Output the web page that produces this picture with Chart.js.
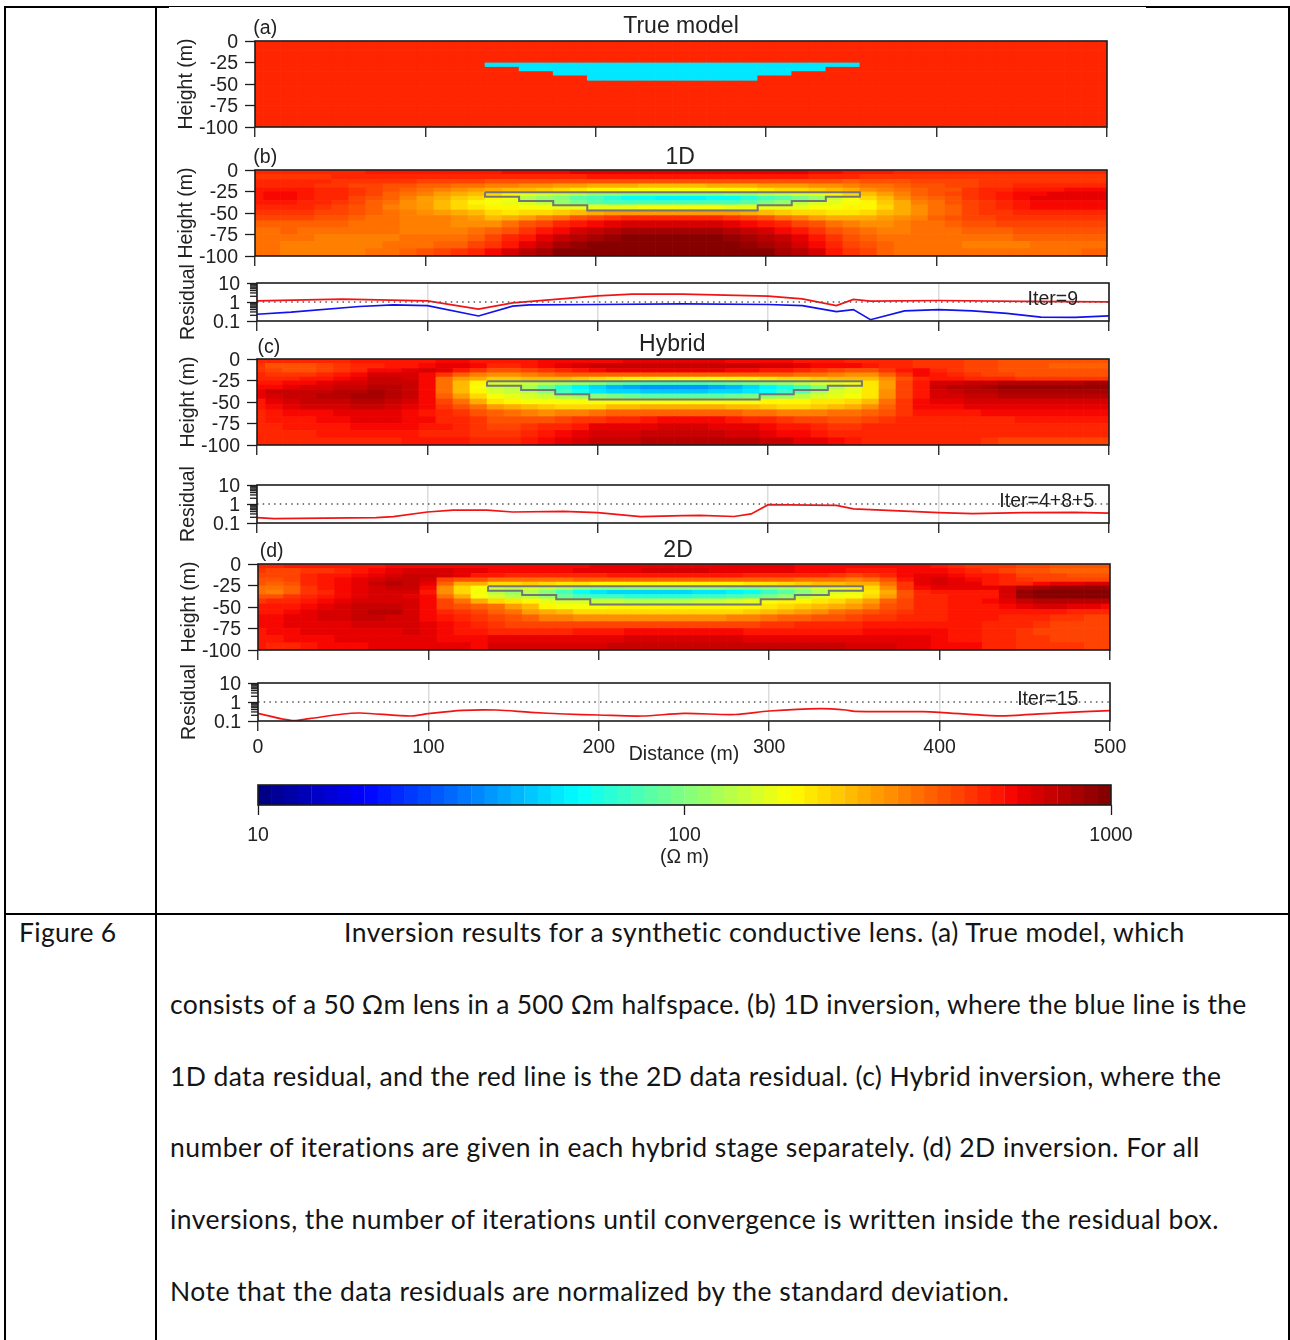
<!DOCTYPE html>
<html>
<head>
<meta charset="utf-8">
<title>Figure 6</title>
<script src="https://cdn.jsdelivr.net/npm/chart.js@4"></script>
<style>
  html, body { margin: 0; padding: 0; background: #fff; }
  #page { position: relative; width: 1290px; height: 1340px; overflow: hidden; }
  #page canvas { position: absolute; filter: blur(0.35px); }
  .rule { position: absolute; background: #000; }
  .cap { position: absolute; white-space: nowrap; font-family: Lato, sans-serif; font-size: 26.5px; line-height: 32px; color: #141414; font-variant-ligatures: none; }
</style>
</head>
<body>
<div id="page"></div>
<script>
// --- data ---
const distanceTicks = [0, 100, 200, 300, 400, 500];
const depthTicks = [0, -25, -50, -75, -100];
const residualTicks = [0.1, 1, 10];
const residualMinor = [0.2, 0.3, 0.4, 0.5, 0.6, 0.7, 0.8, 0.9, 2, 3, 4, 5, 6, 7, 8, 9];

// layer edges (m below surface) and column centres (m)
const layerEdges = [0, 5, 11, 16, 21, 25.5, 30.5, 35.5, 40.5, 46.5, 53, 59, 67, 75, 83, 91.5, 100];
const columnCentres = [0, 10, 20, 30, 40, 50, 60, 70, 80, 90, 100, 110, 120, 130, 140, 150, 160, 170, 180, 190, 200, 210, 220, 230, 240, 250, 260, 270, 280, 290, 300, 310, 320, 330, 340, 350, 360, 370, 380, 390, 400, 410, 420, 430, 440, 450, 460, 470, 480, 490, 500];

// lens outline
const lensX = [135, 135, 155, 155, 175, 175, 195, 195, 295, 295, 315, 315, 335, 335, 355, 355, 135];
const lensY = [-26, -31, -31, -36, -36, -41, -41, -47, -47, -41, -41, -36, -36, -31, -31, -26, -26];

// resistivity (ohm m), one row per layer
const halfspaceRow = [500,500,500,500,500,500,500,500,500,500, 500,500,500,500,500,500,500,500,500,500, 500,500,500,500,500,500,500,500,500,500, 500,500,500,500,500,500,500,500,500,500, 500,500,500,500,500,500,500,500,500,500,500];
const lensRow1 = [500,500,500,500,500,500,500,500,500,500, 500,500,500,500,50,50,50,50,50,50, 50,50,50,50,50,50,50,50,50,50, 50,50,50,50,50,50,500,500,500,500, 500,500,500,500,500,500,500,500,500,500,500];
const lensRow2 = [500,500,500,500,500,500,500,500,500,500, 500,500,500,500,500,500,50,50,50,50, 50,50,50,50,50,50,50,50,50,50, 50,50,50,50,500,500,500,500,500,500, 500,500,500,500,500,500,500,500,500,500,500];
const lensRow3 = [500,500,500,500,500,500,500,500,500,500, 500,500,500,500,500,500,500,500,50,50, 50,50,50,50,50,50,50,50,50,50, 50,50,500,500,500,500,500,500,500,500, 500,500,500,500,500,500,500,500,500,500,500];
const lensRow4 = [500,500,500,500,500,500,500,500,500,500, 500,500,500,500,500,500,500,500,500,500, 50,50,50,50,50,50,50,50,50,50, 500,500,500,500,500,500,500,500,500,500, 500,500,500,500,500,500,500,500,500,500,500];
const trueRows = [halfspaceRow, halfspaceRow, halfspaceRow, halfspaceRow, halfspaceRow, lensRow1, lensRow2, lensRow3, lensRow4, halfspaceRow, halfspaceRow, halfspaceRow, halfspaceRow, halfspaceRow, halfspaceRow, halfspaceRow];

const rows1D = [
  [490,490,490,490,490,500,520,530,530,530, 540,540,540,550,560,570,580,590,600,610, 620,630,640,640,640,640,640,640,640,640, 640,630,620,600,580,560,540,530,520,520, 510,500,490,490,490,490,490,490,490,490,490],
  [480,480,480,480,480,490,500,510,510,510, 510,520,520,520,510,500,500,500,510,520, 530,540,550,560,560,560,560,560,560,560, 550,540,530,520,500,490,480,470,470,460, 460,460,460,460,470,470,470,470,470,470,470],
  [490,490,490,490,490,480,480,470,470,460, 450,450,440,430,420,410,410,400,400,400, 410,410,410,410,400,400,400,410,410,410, 410,410,410,400,400,390,400,410,420,430, 430,440,450,460,470,480,480,480,480,480,480],
  [520,520,520,500,480,470,450,440,420,400, 380,370,350,340,330,320,310,300,290,280, 270,260,260,250,250,250,250,260,260,270, 280,290,290,300,310,320,340,360,380,400, 420,430,440,460,480,500,520,520,520,520,520],
  [540,560,560,540,520,500,470,440,410,380, 350,330,300,280,260,250,240,230,210,200, 190,180,175,170,170,170,170,175,180,190, 200,210,220,230,250,270,300,330,360,380, 400,420,460,500,520,540,560,560,580,580,580],
  [560,580,580,560,520,500,470,430,390,350, 320,290,260,240,210,180,160,150,140,125, 115,110,105,100,100,100,100,105,110,115, 125,140,150,165,185,210,250,290,330,370, 400,430,470,510,540,570,600,620,620,620,620],
  [560,580,580,550,510,490,450,410,370,320, 290,260,230,210,190,170,130,115,100,85, 75,65,60,58,56,56,56,58,60,65, 75,85,95,115,140,170,210,250,300,340, 380,420,470,500,540,570,610,640,640,640,640],
  [540,540,540,520,490,470,430,390,350,310, 280,250,220,190,170,165,150,130,115,95, 85,80,78,76,75,75,75,76,78,85, 95,115,125,150,165,170,190,230,270,320, 360,400,440,480,520,550,580,600,600,600,600],
  [510,510,510,500,470,450,410,370,330,300, 280,250,220,200,185,178,175,170,165,160, 160,160,165,170,170,170,170,170,165,160, 160,160,165,170,175,178,185,220,260,310, 350,390,430,470,510,540,570,570,570,570,570],
  [470,470,470,470,450,430,400,370,340,320, 300,280,260,240,210,200,210,220,230,250, 270,280,280,290,290,290,290,280,280,270, 250,230,220,210,200,200,215,240,270,310, 350,390,430,460,480,500,520,520,520,520,520],
  [430,430,430,430,420,400,380,360,340,330, 320,320,300,280,250,260,290,320,360,400, 440,470,490,500,500,500,500,490,470,430, 400,360,320,290,270,260,260,280,300,330, 370,400,430,450,460,470,480,480,480,480,480],
  [390,390,390,390,380,370,360,350,340,330, 320,320,310,300,310,350,400,450,500,540, 580,620,650,680,680,680,680,650,620,580, 540,490,440,400,360,320,300,300,320,340, 360,380,400,420,430,440,440,440,440,440,440],
  [360,360,370,360,350,340,340,340,340,330, 330,330,330,340,370,420,480,540,600,670, 720,770,810,820,820,820,820,810,770,720, 660,600,530,470,420,370,340,330,330,340, 350,360,370,380,390,400,400,400,400,400,400],
  [340,340,340,340,330,330,330,330,330,340, 340,350,360,380,440,500,560,640,720,800, 860,900,950,960,970,970,960,950,900,860, 780,700,620,540,470,410,370,350,340,340, 340,340,340,350,360,370,370,370,370,370,370],
  [340,340,320,320,320,320,330,330,340,350, 350,370,390,430,480,560,640,720,830,900, 960,990,1000,1000,1000,1000,1000,1000,960,920, 860,770,670,580,500,430,400,370,350,340, 340,340,330,320,320,330,340,350,350,350,360],
  [340,340,330,320,320,320,330,340,350,380, 400,430,480,520,600,680,760,850,960,1000, 1000,1000,1000,1000,1000,1000,1000,1000,1000,1000, 960,860,750,650,540,480,430,380,350,340, 340,340,340,340,340,340,340,340,350,370,370]
];

const rowsHybrid = [
  [500,520,520,520,520,520,530,530,540,540, 560,570,570,560,540,540,560,570,590,600, 600,600,610,620,620,620,620,620,600,600, 580,570,560,540,530,520,520,510,500,480, 470,470,450,430,420,410,410,400,400,400,400],
  [480,420,420,420,440,460,500,520,540,560, 600,620,630,570,500,500,540,570,620,680, 700,720,730,740,740,740,730,730,720,700, 680,650,620,600,590,570,540,520,500,470, 470,460,450,430,410,400,400,390,380,380,380],
  [460,430,420,420,440,470,520,570,590,620, 650,620,540,460,400,400,440,480,520,560, 590,610,620,620,620,620,620,610,600,580, 560,540,510,480,450,420,420,480,560,600, 520,470,450,430,410,400,400,400,400,400,400],
  [490,460,460,480,500,540,590,650,670,650, 600,470,380,330,310,310,330,350,370,380, 390,390,390,380,380,380,380,380,380,380, 380,370,360,340,320,300,310,380,470,590, 530,500,470,450,440,420,420,420,420,420,420],
  [520,520,520,540,560,600,640,700,720,680, 590,360,290,260,230,230,250,250,240,230, 210,200,190,180,175,175,175,175,180,190, 200,210,220,230,240,240,250,300,420,520, 560,530,520,500,490,480,480,470,470,460,460],
  [560,560,570,590,620,650,690,730,740,700, 590,340,250,190,150,150,140,130,120,110, 100,90,85,80,80,80,80,85,90,95, 105,115,125,145,160,175,205,290,430,540, 680,670,700,740,760,780,790,790,800,820,820],
  [590,590,620,650,680,700,740,780,770,710, 590,340,240,175,140,130,120,90,65,55, 48,42,38,36,35,35,36,38,42,48, 55,62,75,100,130,165,200,290,440,540, 720,800,800,850,880,900,920,920,900,900,900],
  [640,700,720,740,740,770,800,830,790,720, 600,360,240,178,150,140,130,100,75,62, 52,48,46,44,44,44,44,46,48,52, 60,72,85,120,145,160,195,300,440,540, 690,720,760,800,830,830,830,830,830,830,830],
  [620,680,700,720,760,800,830,840,800,700, 600,380,280,210,170,165,150,140,120,110, 100,95,90,85,85,85,85,85,90,95, 105,115,130,150,165,170,200,310,450,560, 650,680,700,730,750,750,750,750,750,750,750],
  [560,620,680,700,720,730,770,750,730,670, 590,440,340,270,200,180,175,175,175,175, 175,175,170,175,175,175,175,175,175,175, 178,180,185,195,200,210,250,340,470,590, 620,640,650,660,670,670,670,670,670,670,670],
  [530,580,620,650,660,680,700,700,680,630, 570,480,400,340,280,260,240,225,220,215, 220,240,250,260,270,270,270,260,250,240, 230,220,220,230,240,260,300,370,470,570, 580,590,610,620,620,620,620,620,620,620,620],
  [510,530,570,590,600,620,640,640,640,600, 560,500,470,400,370,350,320,310,320,330, 350,370,380,390,390,390,390,380,370,360, 340,330,320,320,340,360,380,410,480,540, 540,550,550,570,570,570,570,570,570,570,570],
  [510,530,550,560,570,590,610,620,610,590, 570,520,500,470,420,400,400,400,430,460, 480,500,520,550,570,580,580,570,550,520, 500,470,450,430,420,420,440,470,500,520, 520,520,510,520,520,540,540,540,540,540,540],
  [500,520,540,550,560,560,570,580,580,570, 560,540,510,480,450,450,460,490,520,560, 610,620,620,630,650,650,650,640,630,610, 580,560,530,500,480,480,490,500,510,520, 510,500,500,500,510,510,510,510,520,520,520],
  [510,510,510,520,530,530,530,530,530,530, 520,510,490,470,470,480,500,540,580,620, 650,670,690,700,710,710,710,700,680,660, 640,600,570,540,510,500,490,490,490,490, 490,500,500,500,510,510,510,510,510,510,510],
  [490,490,490,490,490,510,520,520,520,530, 530,530,530,520,520,520,560,590,620,660, 700,720,740,760,770,770,770,770,770,760, 740,710,640,620,580,540,510,500,500,490, 490,490,490,470,450,450,450,450,450,450,450]
];

const rows2D = [
  [500,500,530,530,530,530,540,560,580,600, 590,600,600,600,600,600,600,600,590,600, 620,620,620,620,620,620,620,620,620,620, 620,620,600,590,580,570,570,570,590,590, 550,520,480,470,470,450,440,420,410,410,410],
  [460,430,440,460,480,520,560,580,620,660, 680,670,640,620,600,600,590,590,600,610, 620,620,640,660,660,660,650,640,630,620, 620,610,600,590,570,560,540,540,570,600, 570,530,490,460,440,420,400,390,380,370,370],
  [440,430,430,500,530,560,600,640,680,720, 700,660,620,560,530,490,490,490,500,510, 520,530,530,530,530,530,530,530,530,520, 520,510,500,490,470,450,460,510,580,620, 620,590,560,530,490,450,440,430,420,420,420],
  [420,420,430,500,530,570,620,680,740,740, 650,450,420,400,350,350,350,360,360,370, 370,370,370,370,370,370,370,370,370,370, 370,370,360,350,340,330,340,420,540,620, 650,620,600,550,500,470,450,450,440,440,440],
  [400,390,420,490,530,580,630,700,760,740, 620,380,260,260,220,215,225,215,205,195, 190,190,190,190,190,190,190,190,190,195, 200,215,225,240,250,255,270,340,480,610, 650,640,610,560,520,500,580,620,640,650,650],
  [350,340,370,470,530,590,620,680,730,700, 580,300,220,170,140,130,150,140,125,115, 105,105,110,110,110,110,110,110,105,105, 110,120,130,150,165,178,220,300,460,600, 640,640,630,620,680,800,860,880,880,880,880],
  [340,330,370,460,520,580,620,660,680,660, 560,300,220,170,130,110,125,100,75,60, 52,48,46,46,46,48,50,52,55,60, 70,85,100,130,150,165,200,270,400,520, 540,540,550,560,650,900,960,1000,1000,1000,1000],
  [420,420,460,500,540,590,630,670,670,640, 570,350,260,170,150,125,130,110,90,80, 72,70,68,68,68,68,70,72,78,85, 95,110,125,150,170,175,210,280,400,500, 520,530,540,560,650,880,960,1000,1000,1000,950],
  [480,490,510,530,570,610,650,680,680,650, 580,430,340,260,220,200,178,160,150,145, 140,135,130,130,130,130,135,140,150,160, 170,178,185,195,210,240,280,380,440,490, 510,530,550,580,620,700,780,780,790,790,760],
  [530,530,540,570,620,670,720,720,720,680, 580,430,400,370,340,290,240,178,170,170, 175,178,178,178,178,178,178,178,180,185, 200,215,225,240,260,290,330,400,450,490, 510,530,540,560,600,640,660,660,620,620,600],
  [550,560,600,630,660,690,740,750,750,680, 600,500,470,430,380,340,290,260,240,220, 210,210,215,220,220,220,215,215,220,230, 250,270,290,310,340,370,400,430,470,500, 510,530,540,550,560,550,530,530,520,510,500],
  [570,580,620,630,650,670,700,700,680,650, 600,540,500,470,430,410,380,330,320,310, 310,310,310,310,310,310,310,310,320,330, 350,370,390,400,420,440,460,470,500,520, 520,530,530,530,520,510,490,470,460,450,450],
  [600,600,610,620,630,640,650,650,650,660, 640,590,530,490,470,450,440,430,430,430, 430,430,430,430,430,430,430,440,440,450, 470,480,490,500,500,510,530,540,550,550, 550,540,530,520,500,490,470,450,440,430,430],
  [560,580,600,610,610,620,620,620,640,650, 620,580,550,530,520,510,510,510,520,530, 550,560,570,580,580,580,580,570,570,560, 550,540,540,540,550,560,570,580,590,590, 570,550,530,510,490,470,450,440,430,430,430],
  [560,560,570,590,600,610,620,620,620,620, 610,590,580,570,610,620,640,630,630,640, 640,640,650,660,660,660,660,660,650,640, 640,640,640,640,640,630,630,630,630,640, 600,560,530,510,490,480,460,440,430,430,430],
  [530,500,500,560,580,600,600,620,610,620, 620,620,620,600,680,680,680,680,680,680, 690,700,700,720,720,730,740,740,740,740, 740,740,740,740,740,680,680,650,620,620, 600,590,570,520,500,480,470,470,470,450,450]
];

// residual curves
const resid1dX = [0, 50, 100, 130, 150, 200, 220, 250, 300, 320, 340, 350, 360, 400, 450, 500];
const resid1dRed = [1.15, 1.41, 1.15, 0.42, 0.9, 2.12, 2.6, 2.6, 2.04, 1.47, 0.65, 1.36, 1.1, 1.2, 1.07, 1.02];
const resid1dBlueX = [0, 20, 60, 80, 100, 130, 150, 160, 200, 250, 300, 320, 340, 350, 360, 380, 400, 420, 440, 460, 480, 500];
const resid1dBlue = [0.226, 0.29, 0.58, 0.71, 0.65, 0.184, 0.6, 0.71, 0.74, 0.79, 0.74, 0.65, 0.31, 0.4, 0.117, 0.34, 0.4, 0.34, 0.25, 0.16, 0.155, 0.184];
const residHybridX = [0, 10, 70, 80, 100, 115, 135, 150, 180, 200, 225, 250, 260, 280, 290, 300, 340, 350, 400, 420, 450, 480, 500];
const residHybrid = [0.19, 0.17, 0.19, 0.215, 0.38, 0.48, 0.48, 0.38, 0.41, 0.35, 0.215, 0.243, 0.25, 0.22, 0.3, 0.92, 0.85, 0.55, 0.35, 0.31, 0.35, 0.36, 0.33];
const resid2dX = [0, 20, 30, 50, 60, 90, 100, 120, 140, 160, 180, 200, 225, 250, 280, 300, 330, 345, 350, 390, 400, 430, 445, 470, 500];
const resid2d = [0.25, 0.105, 0.133, 0.234, 0.263, 0.183, 0.243, 0.363, 0.38, 0.286, 0.234, 0.207, 0.183, 0.25, 0.22, 0.336, 0.447, 0.38, 0.32, 0.31, 0.286, 0.19, 0.2, 0.27, 0.35];
const targetX = [0, 500];
const targetY = [1, 1];

// colour bar levels, log10(ohm m)
const barLevels = [1.016, 1.047, 1.078, 1.109, 1.141, 1.172, 1.203, 1.234, 1.266, 1.297, 1.328, 1.359, 1.391, 1.422, 1.453, 1.484, 1.516, 1.547, 1.578, 1.609, 1.641, 1.672, 1.703, 1.734, 1.766, 1.797, 1.828, 1.859, 1.891, 1.922, 1.953, 1.984, 2.016, 2.047, 2.078, 2.109, 2.141, 2.172, 2.203, 2.234, 2.266, 2.297, 2.328, 2.359, 2.391, 2.422, 2.453, 2.484, 2.516, 2.547, 2.578, 2.609, 2.641, 2.672, 2.703, 2.734, 2.766, 2.797, 2.828, 2.859, 2.891, 2.922, 2.953, 2.984];
const barTicks = [1, 2, 3];

const captionLines = [
  'Inversion results for a synthetic conductive lens. (a) True model, which',
  'consists of a 50 Ωm lens in a 500 Ωm halfspace. (b) 1D inversion, where the blue line is the',
  '1D data residual, and the red line is the 2D data residual. (c) Hybrid inversion, where the',
  'number of iterations are given in each hybrid stage separately. (d) 2D inversion. For all',
  'inversions, the number of iterations until convergence is written inside the residual box.',
  'Note that the data residuals are normalized by the standard deviation.'
];

// --- helpers ---
const FONT = '"Liberation Sans", Arial, sans-serif';
const TEXT = '#222';
const page = document.getElementById('page');
const zip = (xs, ys) => xs.map((x, i) => ({ x, y: ys[i] }));

function clamp01(v) { return Math.max(0, Math.min(1, v)); }
function jet(t) {
  const u = (Math.min(63, Math.floor(clamp01(t) * 64)) + 0.5) / 64;
  const r = clamp01(1.5 - Math.abs(4 * u - 3));
  // green falls a touch later than plain jet, the reds in the figure are more orange
  const g = u > 0.625 ? clamp01((0.89 - u) / 0.265) : clamp01(1.5 - Math.abs(4 * u - 2));
  const b = clamp01(1.5 - Math.abs(4 * u - 1));
  return `rgb(${Math.round(r * 255)},${Math.round(g * 255)},${Math.round(b * 255)})`;
}
const rhoColour = rho => jet((Math.log10(rho) - 1) / 2);

function addCanvas(left, top, width, height) {
  const c = document.createElement('canvas');
  c.width = width;
  c.height = height;
  c.style.left = left + 'px';
  c.style.top = top + 'px';
  c.style.width = width + 'px';
  c.style.height = height + 'px';
  page.appendChild(c);
  return c;
}

// no automatic label padding, the plot box has to land where the panel says
function noPadding(s) {
  s.paddingTop = 0;
  s.paddingBottom = 0;
  s.paddingLeft = 0;
  s.paddingRight = 0;
}

// frame round the plot, short minor ticks and the free text of a panel
function panelPlugin(labels, minors) {
  return {
    id: 'panelDecor',
    afterDraw(chart) {
      const { ctx, chartArea: a, scales } = chart;
      ctx.save();
      ctx.strokeStyle = '#1c1c1c';
      ctx.lineWidth = 1.6;
      ctx.strokeRect(a.left, a.top, a.right - a.left, a.bottom - a.top);
      if (minors) {
        ctx.lineWidth = 1.3;
        minors.forEach(v => {
          const y = scales.y.getPixelForValue(v);
          ctx.beginPath();
          ctx.moveTo(a.left - 7, y);
          ctx.lineTo(a.left, y);
          ctx.stroke();
        });
      }
      ctx.fillStyle = TEXT;
      ctx.textBaseline = 'middle';
      ctx.textAlign = 'center';
      (labels || []).forEach(l => {
        ctx.font = `${l.size || 19.5}px ${FONT}`;
        ctx.fillText(l.text, scales.x.getPixelForValue(l.x), a.top + l.dy);
      });
      ctx.restore();
    }
  };
}

function baseOptions(layoutPadding) {
  return {
    responsive: false,
    animation: false,
    events: [],
    layout: { padding: layoutPadding },
    plugins: { legend: { display: false }, tooltip: { enabled: false } }
  };
}

function xScale(showLabels, gridLines, xHeight, title) {
  return {
    type: 'linear',
    min: 0,
    max: 500,
    offset: false,
    afterBuildTicks: s => { s.ticks = distanceTicks.map(value => ({ value })); },
    afterFit: s => { s.height = xHeight; noPadding(s); },
    ticks: { display: showLabels, autoSkip: false, color: TEXT, padding: 5, maxRotation: 0, font: { family: FONT, size: 19.5 } },
    grid: { offset: false, drawOnChartArea: gridLines, color: '#dcdcdc', lineWidth: 1.5, tickColor: '#1c1c1c', tickWidth: 1.3, tickLength: 10 },
    border: { display: false },
    title: title ? { display: true, text: title, color: TEXT, padding: 0, font: { family: FONT, size: 19.5 } } : { display: false }
  };
}

function yTitle(text) {
  return { display: true, text, color: TEXT, padding: 0, font: { family: FONT, size: 19.5 } };
}

// 2D section: one floating bar per mesh cell, plus the lens outline
function heatPanel(plotLeft, plotTop, plotH, rows, labels, withLens) {
  const padTop = 32, yW = 80, xH = 14, padRight = 70, plotW = 852;
  const canvas = addCanvas(plotLeft - yW, plotTop - padTop, yW + plotW + padRight, padTop + plotH + xH);
  const cells = [];
  const colours = [];
  rows.forEach((row, r) => {
    row.forEach((rho, i) => {
      cells.push({ x: columnCentres[i], y: [-layerEdges[r], -layerEdges[r + 1]] });
      colours.push(rhoColour(rho));
    });
  });
  const datasets = [{ type: 'bar', data: cells, backgroundColor: colours, barPercentage: 1, categoryPercentage: 1, order: 2 }];
  if (withLens) {
    datasets.push({ type: 'line', data: zip(lensX, lensY), borderColor: '#757575', borderWidth: 2, pointRadius: 0, tension: 0, fill: false, order: 1 });
  }
  const options = baseOptions({ top: padTop, right: padRight, bottom: 0, left: 0 });
  options.scales = {
    x: xScale(false, false, xH),
    y: {
      type: 'linear',
      min: -100,
      max: 0,
      afterBuildTicks: s => { s.ticks = depthTicks.map(value => ({ value })); },
      afterFit: s => { s.width = yW; noPadding(s); },
      ticks: { autoSkip: false, color: TEXT, padding: 7, labelOffset: 1.5, font: { family: FONT, size: 19.5 } },
      grid: { drawOnChartArea: false, tickColor: '#1c1c1c', tickWidth: 1.3, tickLength: 10 },
      border: { display: false },
      title: yTitle('Height (m)')
    }
  };
  return new Chart(canvas, { type: 'bar', data: { datasets }, options, plugins: [panelPlugin(labels)] });
}

function residualPanel(plotLeft, plotTop, curves, labels, showLabels, xH, xTitle, tension) {
  const padTop = 28, yW = 80, padRight = 70, plotW = 852, plotH = 38;
  const canvas = addCanvas(plotLeft - yW, plotTop - padTop, yW + plotW + padRight, padTop + plotH + xH);
  const datasets = [{ data: zip(targetX, targetY), borderColor: '#555', borderWidth: 1.4, borderDash: [1.5, 4.2], pointRadius: 0, tension: 0 }];
  curves.forEach(c => {
    datasets.push({ data: zip(c.x, c.y), borderColor: c.colour, borderWidth: 1.7, pointRadius: 0, tension: tension || 0 });
  });
  const options = baseOptions({ top: padTop, right: padRight, bottom: 0, left: 0 });
  options.scales = {
    x: xScale(showLabels, true, xH, xTitle),
    y: {
      type: 'logarithmic',
      min: 0.1,
      max: 10,
      afterBuildTicks: s => { s.ticks = residualTicks.map(value => ({ value })); },
      afterFit: s => { s.width = yW; noPadding(s); },
      ticks: { autoSkip: false, color: TEXT, padding: 7, labelOffset: 1.5, callback: v => String(v), font: { family: FONT, size: 19.5 } },
      grid: { drawOnChartArea: false, tickColor: '#1c1c1c', tickWidth: 1.3, tickLength: 10 },
      border: { display: false },
      title: yTitle('Residual')
    }
  };
  return new Chart(canvas, { type: 'line', data: { datasets }, options, plugins: [panelPlugin(labels, residualMinor)] });
}

function colourBar(plotLeft, plotTop) {
  const pad = 40, plotW = 853, plotH = 20, xH = 64;
  const canvas = addCanvas(plotLeft - pad, plotTop - 2, plotW + pad * 2, 2 + plotH + xH);
  const options = baseOptions({ top: 2, right: pad, bottom: 0, left: pad });
  options.scales = {
    x: {
      type: 'linear',
      min: 1,
      max: 3,
      offset: false,
      afterBuildTicks: s => { s.ticks = barTicks.map(value => ({ value })); },
      afterFit: s => { s.height = xH; noPadding(s); },
      ticks: { autoSkip: false, color: TEXT, padding: 9, maxRotation: 0, callback: v => String(Math.round(Math.pow(10, v))), font: { family: FONT, size: 19.5 } },
      grid: { offset: false, drawOnChartArea: false, tickColor: '#1c1c1c', tickWidth: 1.3, tickLength: 10 },
      border: { display: false },
      title: { display: true, text: '(Ω m)', color: TEXT, padding: 0, font: { family: FONT, size: 19.5 } }
    },
    y: { type: 'linear', min: 0, max: 1, display: false }
  };
  const data = barLevels.map(v => ({ x: v, y: [0, 1] }));
  const backgroundColor = barLevels.map(v => jet((v - 1) / 2));
  return new Chart(canvas, {
    type: 'bar',
    data: { datasets: [{ data, backgroundColor, barPercentage: 1, categoryPercentage: 1 }] },
    options,
    plugins: [panelPlugin()]
  });
}

function addRule(left, top, width, height) {
  const d = document.createElement('div');
  d.className = 'rule';
  d.style.cssText = `left:${left}px;top:${top}px;width:${width}px;height:${height}px`;
  page.appendChild(d);
}
function addCaption(text, left, baseline, spacing) {
  const d = document.createElement('div');
  d.className = 'cap';
  d.textContent = text;
  d.style.left = left + 'px';
  d.style.top = (baseline - 26) + 'px';
  d.style.letterSpacing = spacing + 'px';
  page.appendChild(d);
}

// --- table frame and caption ---
addRule(4, 6, 165, 2);
addRule(169, 6, 977, 1);
addRule(1146, 6, 144, 2);
addRule(4, 6, 2, 1334);
addRule(155, 6, 2, 1334);
addRule(1288, 6, 2, 1334);
addRule(4, 913, 1286, 2);
addCaption('Figure 6', 19, 942, 0.3);
const captionBaselines = [942, 1014, 1086, 1157, 1229, 1301];
const captionSpacing = [0.47, 0.28, 0.39, 0.44, 0.43, 0.46];
captionLines.forEach((t, i) => addCaption(t, i === 0 ? 344 : 170, captionBaselines[i], captionSpacing[i]));

// --- panels ---
heatPanel(255, 41, 86, trueRows, [{ text: '(a)', x: 6, dy: -12 }, { text: 'True model', x: 250, dy: -14, size: 23 }], false);
heatPanel(255, 170, 86, rows1D, [{ text: '(b)', x: 6, dy: -12 }, { text: '1D', x: 249.5, dy: -12, size: 23 }], true);
residualPanel(257, 283, [{ x: resid1dBlueX, y: resid1dBlue, colour: '#1212ee' }, { x: resid1dX, y: resid1dRed, colour: '#f21414' }], [{ text: 'Iter=9', x: 467, dy: 17 }], false, 28);
heatPanel(257, 359, 86, rowsHybrid, [{ text: '(c)', x: 7, dy: -11 }, { text: 'Hybrid', x: 243.7, dy: -14, size: 23 }], true);
residualPanel(257, 485, [{ x: residHybridX, y: residHybrid, colour: '#f21414' }], [{ text: 'Iter=4+8+5', x: 463.5, dy: 17 }], false, 28);
heatPanel(258, 564, 86, rows2D, [{ text: '(d)', x: 8, dy: -12 }, { text: '2D', x: 246.5, dy: -13, size: 23 }], true);
residualPanel(258, 683, [{ x: resid2dX, y: resid2d, colour: '#f21414' }], [{ text: 'Iter=15', x: 463.5, dy: 17 }], true, 45, 'Distance (m)', 0.3);
colourBar(258, 785);
</script>
</body>
</html>
